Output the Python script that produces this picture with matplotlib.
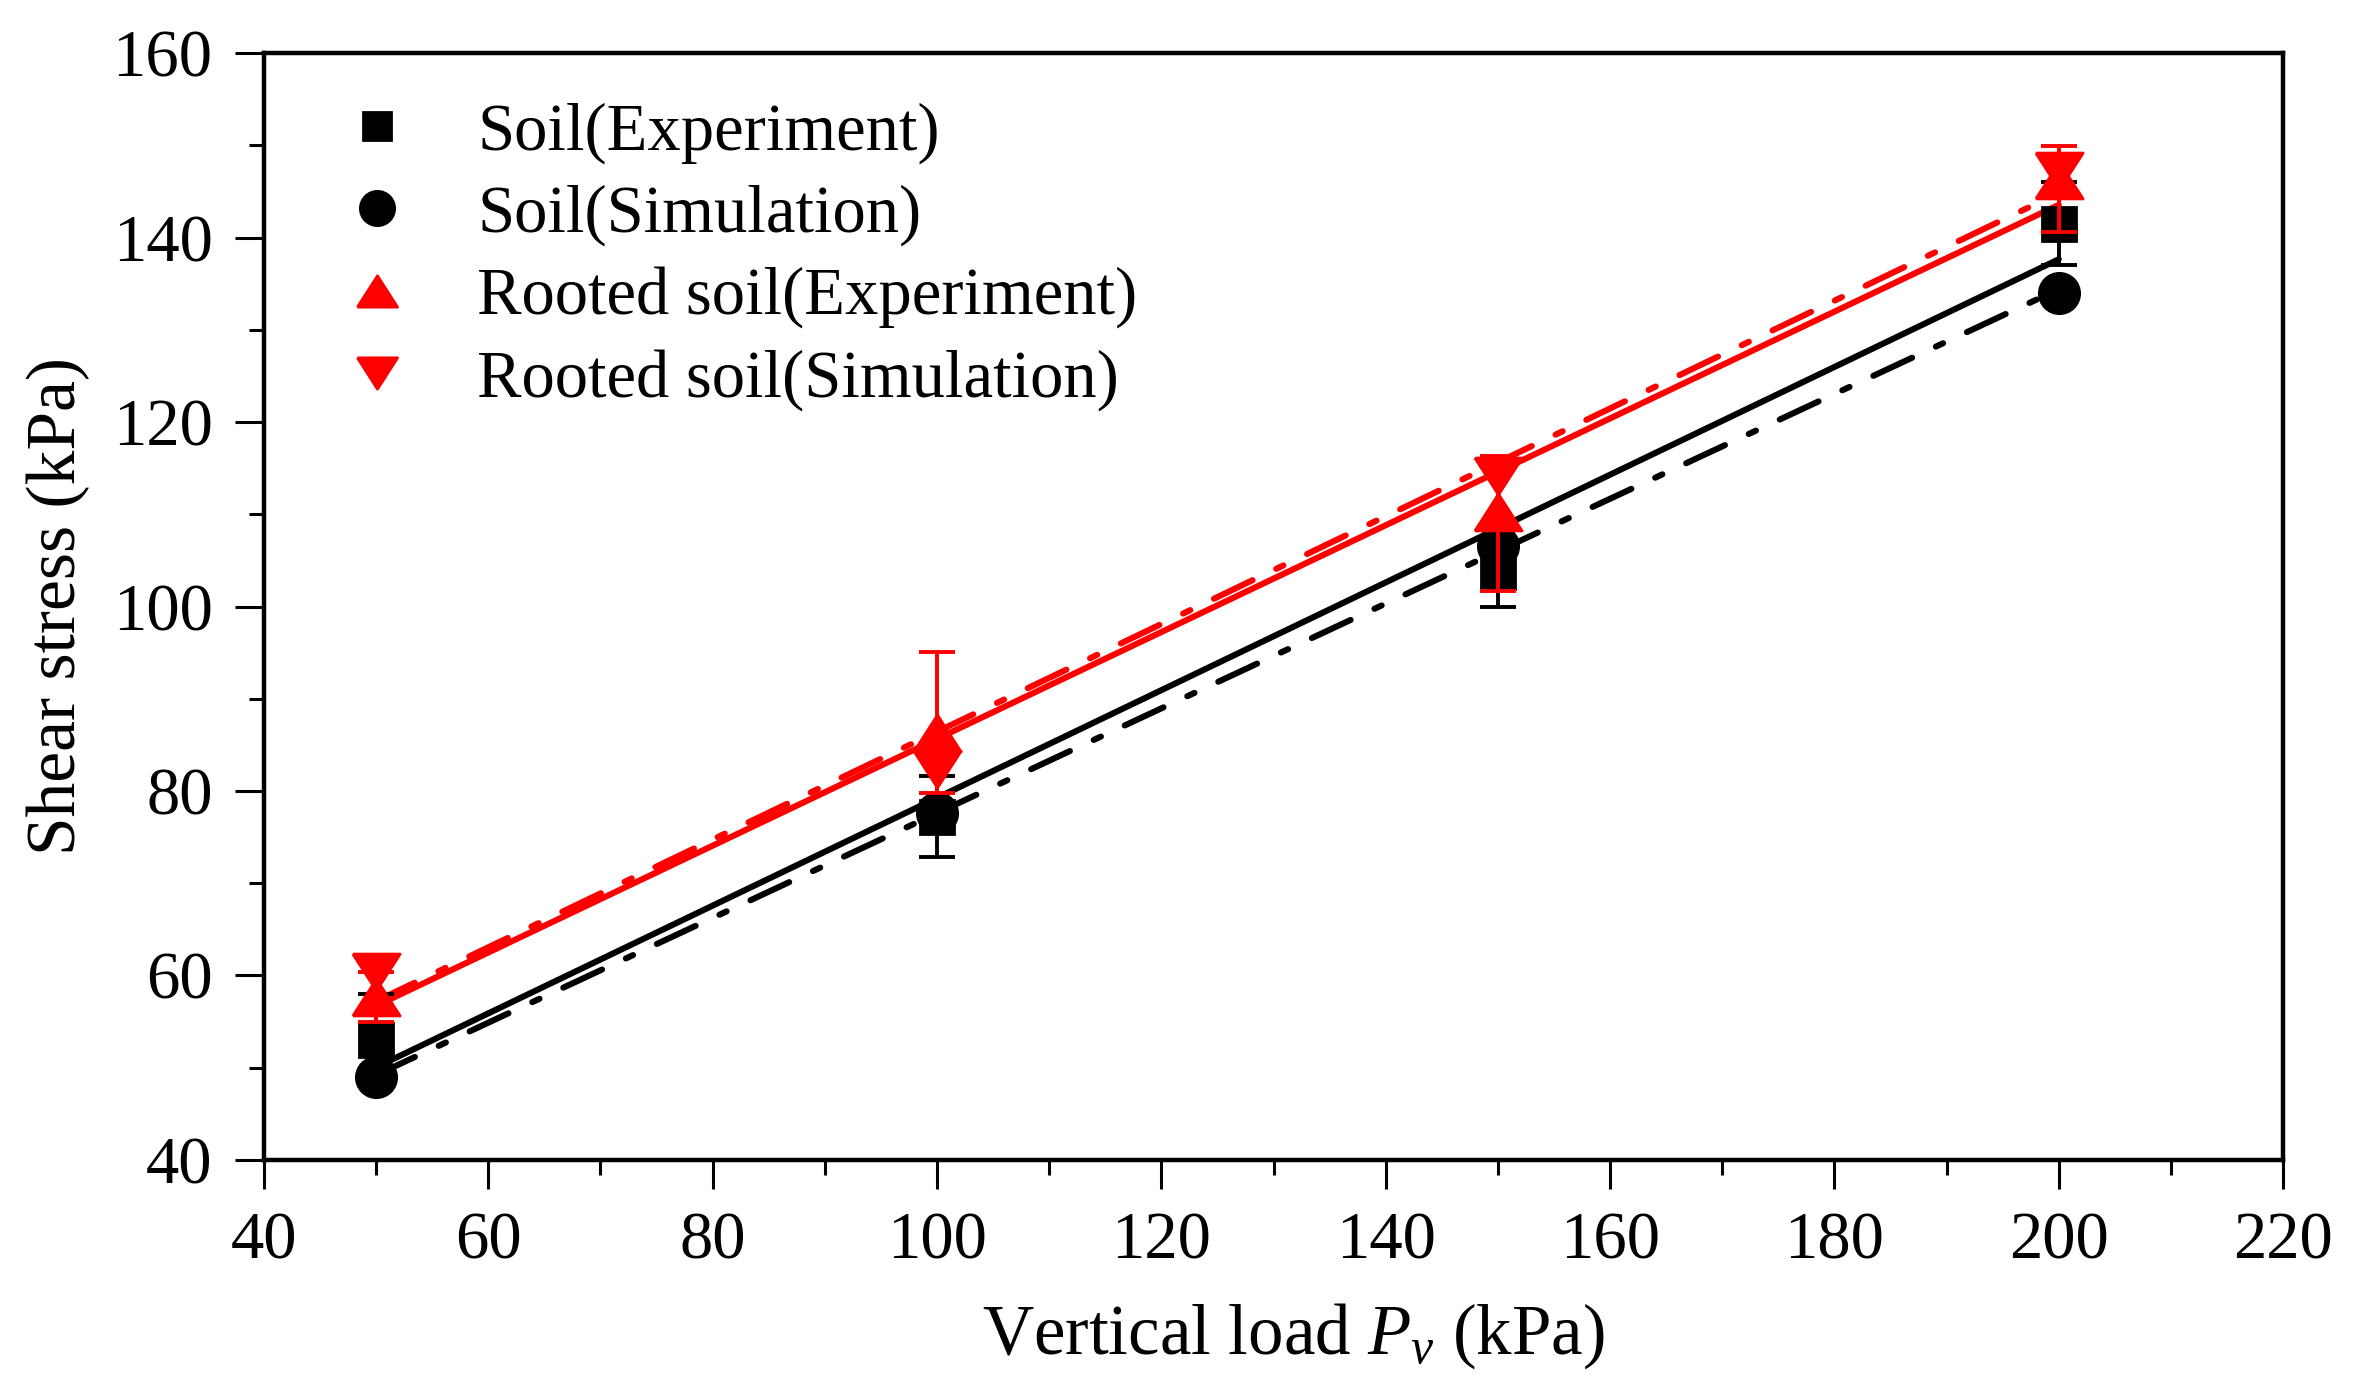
import numpy as np
import matplotlib
matplotlib.use('Agg')
import matplotlib.pyplot as plt
from matplotlib.ticker import MultipleLocator

# data
load = [50, 100, 150, 200]
soil_exp = [53.0, 77.2, 103.7, 141.5]
soil_exp_err = [5.0, 4.4, 3.7, 4.5]
soil_sim = [49.0, 77.6, 106.6, 134.0]
rooted_exp = [57.7, 86.3, 110.3, 146.2]
rooted_err_low = [2.7, 6.5, 8.6, 5.6]
rooted_err_high = [2.7, 8.8, 6.0, 3.7]
rooted_sim = [60.4, 82.4, 114.1, 147.2]

labels = ['Soil(Experiment)', 'Soil(Simulation)',
          'Rooted soil(Experiment)', 'Rooted soil(Simulation)']

plt.rcParams['font.family'] = ['Liberation Serif', 'DejaVu Serif']
plt.rcParams['mathtext.fontset'] = 'custom'
plt.rcParams['mathtext.rm'] = 'Liberation Serif'
plt.rcParams['mathtext.it'] = 'Liberation Serif:italic'

RED = '#ff0000'
tri_up = [(-1, -0.78), (1, -0.78), (0, 0.78), (-1, -0.78)]
tri_down = [(-1, 0.78), (1, 0.78), (0, -0.78), (-1, 0.78)]

fig = plt.figure(figsize=(11.815, 6.985), dpi=200)
ax = fig.add_axes([0.1117, 0.1697, 0.8545, 0.7923])

x = np.array(load)
xf = np.array([50, 200])
dashdot = (0, (7, 4.3, 1.3, 4.3))

# linear fits
for y, c, ls in [(soil_exp, 'black', '-'), (soil_sim, 'black', dashdot),
                 (rooted_exp, RED, '-'), (rooted_sim, RED, dashdot)]:
    k, b = np.polyfit(x, y, 1)
    ax.plot(xf, k * xf + b, color=c, lw=2.2, ls=ls, dash_capstyle='round',
            solid_capstyle='round', zorder=2)

ax.errorbar(load, soil_exp, yerr=soil_exp_err, fmt='none', ecolor='black',
            elinewidth=1.4, capsize=6.5, capthick=1.4, zorder=3)
ax.plot(load, soil_exp, ls='none', marker='s', ms=12, color='black',
        label=labels[0], zorder=3)
ax.plot(load, soil_sim, ls='none', marker='o', ms=14.5, color='black',
        label=labels[1], zorder=3)
ax.errorbar(load, rooted_exp, yerr=[rooted_err_low, rooted_err_high], fmt='none',
            ecolor=RED, elinewidth=1.4, capsize=6.5, capthick=1.4, zorder=4)
ax.plot(load, rooted_exp, ls='none', marker=tri_up, ms=17, color=RED,
        label=labels[2], zorder=4)
ax.plot(load, rooted_sim, ls='none', marker=tri_down, ms=17, color=RED,
        label=labels[3], zorder=4)

ax.set_xlim(40, 220)
ax.set_ylim(40, 160)
ax.xaxis.set_major_locator(MultipleLocator(20))
ax.xaxis.set_minor_locator(MultipleLocator(10))
ax.yaxis.set_major_locator(MultipleLocator(20))
ax.yaxis.set_minor_locator(MultipleLocator(10))
ax.tick_params(which='both', direction='out', width=1.1, labelsize=24)
ax.tick_params(which='major', length=10.5, pad=8)
ax.tick_params(which='minor', length=5.4)
for s in ax.spines.values():
    s.set_linewidth(1.6)

ax.set_xlabel('Vertical load $P_v$ (kPa)', fontsize=25.5)
ax.set_ylabel('Shear stress (kPa)', fontsize=25, labelpad=8)
ax.xaxis.set_label_coords(0.510, -0.128)

ax.legend(loc='upper left', bbox_to_anchor=(0.0, 0.998), frameon=False,
          fontsize=24, labelspacing=0.31, handletextpad=0.5, borderaxespad=0.3,
          markerscale=0.85)

fig.savefig('out.png', dpi=200)
